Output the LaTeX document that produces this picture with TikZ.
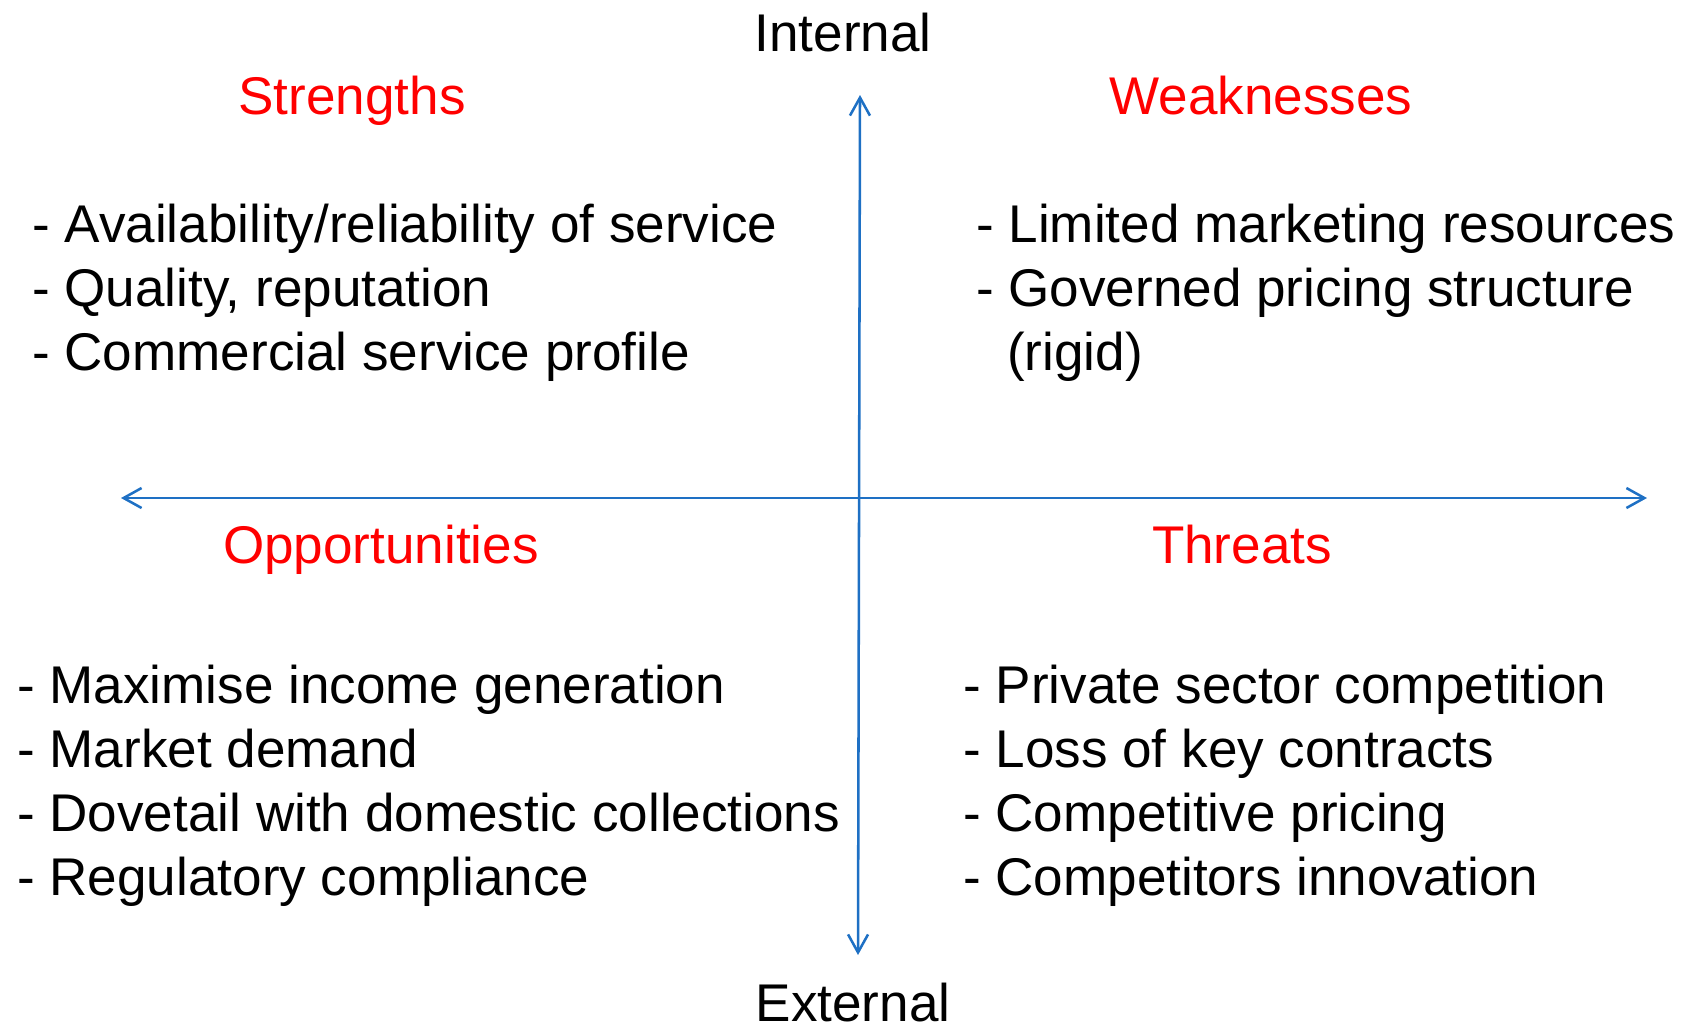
\documentclass[tikz,border=0pt]{standalone}
\usepackage{fontspec}
\setmainfont{Liberation Sans}
\usetikzlibrary{arrows.meta}
\definecolor{axisblue}{RGB}{30,112,196}

\begin{document}
\begin{tikzpicture}[
			x=0.75pt, y=-0.75pt,
			heading/.style={anchor=base, inner sep=0pt, text=red, font=\fontsize{39.8}{48}\selectfont},
			item/.style={anchor=base west, inner sep=0pt, font=\fontsize{39.8}{48}\selectfont},
			axis/.style={draw=axisblue, line width=1.9pt, {Straight Barb[length=13.5pt,width=15pt]}-{Straight Barb[length=13.5pt,width=15pt]}}
	]
	
		\useasboundingbox (0,0) rectangle (1688,1026);
		
		\node (internal) [anchor=base, inner sep=0pt, font=\fontsize{39.8}{48}\selectfont] at (843,51) {Internal};
		\node (external) [anchor=base, inner sep=0pt, font=\fontsize{39.8}{48}\selectfont] at (853,1021) {External};
		
		\coordinate (top) at (860,95);
		\coordinate (bottom) at (858,955);
		\coordinate (left) at (121,498);
		\coordinate (right) at (1647,498);
		
		\draw [axis] (top) -- (bottom);
		\draw [axis] (left) -- (right);
		
		\node (strengths) [heading] at (352,114) {Strengths};
		\node (weaknesses) [heading] at (1261,114) {Weaknesses};
		\node (opportunities) [heading] at (381,563) {Opportunities};
		\node (threats) [heading] at (1242,563) {Threats};
		
		\node (s1) [item] at (32,242) {- Availability/reliability of service};
		\node (s2) [item] at (32,306) {- Quality, reputation};
		\node (s3) [item] at (32,370) {- Commercial service profile};
		
		\node (w1) [item] at (976,242) {- Limited marketing resources};
		\node (w2) [item] at (976,306) {- Governed pricing structure};
		\node (w3) [item] at (1007,370) {(rigid)};
		
		\node (o1) [item] at (17,703) {- Maximise income generation};
		\node (o2) [item] at (17,767) {- Market demand};
		\node (o3) [item] at (17,831) {- Dovetail with domestic collections};
		\node (o4) [item] at (17,895) {- Regulatory compliance};
		
		\node (t1) [item] at (963,703) {- Private sector competition};
		\node (t2) [item] at (963,767) {- Loss of key contracts};
		\node (t3) [item] at (963,831) {- Competitive pricing};
		\node (t4) [item] at (963,895) {- Competitors innovation};
	\end{tikzpicture}
\end{document}
